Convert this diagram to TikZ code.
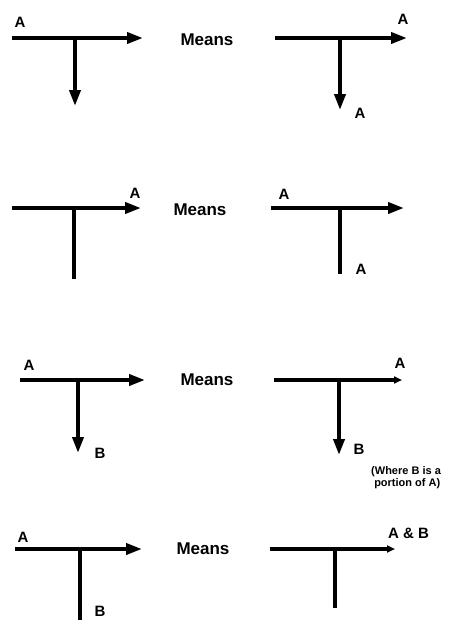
\documentclass[tikz,border=0pt]{standalone}
\usepackage{fontspec}
\setmainfont{Liberation Sans}
\usetikzlibrary{arrows.meta}
\begin{document}
\begin{tikzpicture}[x=1pt,y=-1pt,
  flow/.style={line width=3.8pt},
  arr/.style={flow,-{Triangle[length=16pt,width=11pt]}},
  smallarr/.style={flow,-{Triangle[length=8pt,width=7pt]}},
  lbl/.style={font=\fontsize{15}{15}\selectfont\bfseries,inner sep=0pt},
  means/.style={font=\fontsize{17}{17}\selectfont\bfseries,inner sep=0pt},
  note/.style={font=\fontsize{11}{12.5}\selectfont\bfseries,inner sep=0pt,align=left}]
\useasboundingbox (0,0) rectangle (449,624);
% ---------- Row 1 ----------
\coordinate (a1s) at (12,38); \coordinate (a1e) at (143,38);
\coordinate (a1j) at (75,38); \coordinate (a1d) at (75,106);
\draw[arr] (a1s) -- (a1e);
\draw[arr] (a1j) -- (a1d);
\node[lbl] (a1A) at (20,22) {A};
\node[means] (m1) at (207,40) {Means};
\coordinate (b1s) at (275,38); \coordinate (b1e) at (407,38);
\coordinate (b1j) at (340,38); \coordinate (b1d) at (340,110);
\draw[arr] (b1s) -- (b1e);
\draw[arr] (b1j) -- (b1d);
\node[lbl] (b1A) at (403,19) {A};
\node[lbl] (b1B) at (360,113) {A};
% ---------- Row 2 ----------
\coordinate (a2s) at (12,208); \coordinate (a2e) at (141,208);
\coordinate (a2j) at (74,208); \coordinate (a2d) at (74,279);
\draw[arr] (a2s) -- (a2e);
\draw[flow] (a2j) -- (a2d);
\node[lbl] (a2A) at (135,193) {A};
\node[means] (m2) at (200,210) {Means};
\coordinate (b2s) at (271,208); \coordinate (b2e) at (404,208);
\coordinate (b2j) at (340,208); \coordinate (b2d) at (340,274);
\draw[arr] (b2s) -- (b2e);
\draw[flow] (b2j) -- (b2d);
\node[lbl] (b2A) at (284,194) {A};
\node[lbl] (b2B) at (361,269) {A};
% ---------- Row 3 ----------
\coordinate (a3s) at (20,380); \coordinate (a3e) at (145,380);
\coordinate (a3j) at (78,380); \coordinate (a3d) at (78,453);
\draw[arr] (a3s) -- (a3e);
\draw[arr] (a3j) -- (a3d);
\node[lbl] (a3A) at (29,365) {A};
\node[lbl] (a3B) at (100,453) {B};
\node[means] (m3) at (207,380) {Means};
\coordinate (b3s) at (274,380); \coordinate (b3e) at (402,380);
\coordinate (b3j) at (339,380); \coordinate (b3d) at (339,455);
\draw[smallarr] (b3s) -- (b3e);
\draw[arr] (b3j) -- (b3d);
\node[lbl] (b3A) at (400,363) {A};
\node[lbl] (b3B) at (359,449) {B};
\node[note,anchor=north west] (note) at (371,466) {(Where B is a\\\ portion of A)};
% ---------- Row 4 ----------
\coordinate (a4s) at (15,549); \coordinate (a4e) at (142,549);
\coordinate (a4j) at (80,549); \coordinate (a4d) at (80,620);
\draw[arr] (a4s) -- (a4e);
\draw[flow] (a4j) -- (a4d);
\node[lbl] (a4A) at (23,537) {A};
\node[lbl] (a4B) at (100,611) {B};
\node[means] (m4) at (203,549) {Means};
\coordinate (b4s) at (270,549); \coordinate (b4e) at (395,549);
\coordinate (b4j) at (335,549); \coordinate (b4d) at (335,608);
\draw[smallarr] (b4s) -- (b4e);
\draw[flow] (b4j) -- (b4d);
\node[lbl,anchor=west] (b4A) at (388,533) {A \& B};
\end{tikzpicture}
\end{document}
